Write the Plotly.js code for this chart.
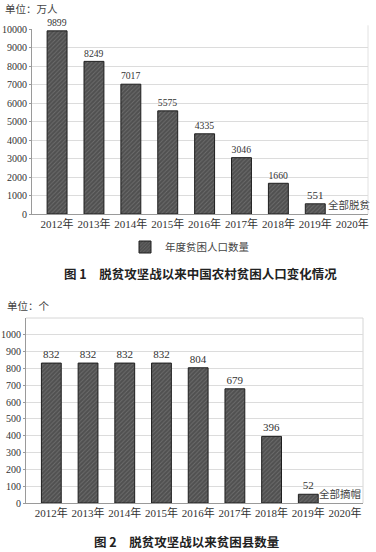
<!DOCTYPE html>
<html>
<head>
<meta charset="utf-8">
<script src="https://cdn.plot.ly/plotly-3.0.1.min.js"></script>
<style>
html,body{margin:0;padding:0;background:#fff;}
#chart{width:376px;height:552px;}
</style>
</head>
<body>
<div id="chart"></div>
<script>
// ---- data ----
const years = ["2012年","2013年","2014年","2015年","2016年","2017年","2018年","2019年","2020年"];
const poorPopulation = [9899, 8249, 7017, 5575, 4335, 3046, 1660, 551, null];
const poorPopulationLabels = ["9899","8249","7017","5575","4335","3046","1660","551",""];
const poorCounties = [832, 832, 832, 832, 804, 679, 396, 52, null];
const poorCountiesLabels = ["832","832","832","832","804","679","396","52",""];
const popTicks = [0,1000,2000,3000,4000,5000,6000,7000,8000,9000,10000];
const countyTicks = [0,100,200,300,400,500,600,700,800,900,1000];

const serif = 'Liberation Serif, Times New Roman, Noto Sans CJK SC, serif';
const cjk = 'Noto Sans CJK SC, sans-serif';
const W = 376, H = 552;
const px = v => v / W;
const py = v => 1 - v / H;

const barMarker = {
  color: '#505050',
  line: {color: '#1e1e1e', width: 1},
  pattern: {shape: '/', fillmode: 'overlay', bgcolor: '#505050', fgcolor: '#8c8c8c', size: 3, solidity: 0.3}
};

const traces = [
  {
    type: 'bar', x: years, y: poorPopulation, xaxis: 'x', yaxis: 'y',
    name: '年度贫困人口数量', width: 0.54,
    text: poorPopulationLabels, textposition: 'outside', cliponaxis: false,
    textfont: {family: serif, size: 11, color: '#333'},
    marker: barMarker, showlegend: true, hoverinfo: 'x+y'
  },
  {
    type: 'bar', x: years, y: poorCounties, xaxis: 'x2', yaxis: 'y2',
    name: '贫困县数量', width: 0.54,
    text: poorCountiesLabels, textposition: 'outside', cliponaxis: false,
    textfont: {family: serif, size: 11, color: '#333'},
    marker: barMarker, showlegend: false, hoverinfo: 'x+y'
  }
];

const xTickFont = {family: serif, size: 11, color: '#333'};
const yTickFont = {family: serif, size: 10, color: '#333'};

const layout = {
  width: W, height: H,
  margin: {l: 0, r: 0, t: 0, b: 0},
  paper_bgcolor: '#fff', plot_bgcolor: '#fff',
  font: {family: serif, color: '#333'},
  bargap: 0,
  xaxis: {
    domain: [px(32), px(368)], type: 'category', range: [-0.68, 8.43],
    showline: true, linecolor: '#9a9a9a', linewidth: 1,
    ticks: '', tickfont: xTickFont, showgrid: false, anchor: 'y', fixedrange: true
  },
  yaxis: {
    domain: [py(214), py(29)], range: [0, 10000],
    tickvals: popTicks, ticktext: popTicks.map(String),
    showline: true, linecolor: '#9a9a9a', linewidth: 1,
    ticks: 'outside', ticklen: 2, tickcolor: '#9a9a9a', ticklabelstandoff: 0,
    gridcolor: '#dcdcdc', gridwidth: 1, zeroline: false,
    tickfont: yTickFont, anchor: 'x', fixedrange: true
  },
  xaxis2: {
    domain: [px(26), px(363)], type: 'category', range: [-0.69, 8.49],
    showline: true, linecolor: '#9a9a9a', linewidth: 1,
    ticks: '', tickfont: xTickFont, showgrid: false, anchor: 'y2', fixedrange: true
  },
  yaxis2: {
    domain: [py(503), py(318)], range: [0, 1100],
    tickvals: countyTicks, ticktext: countyTicks.map(String),
    showline: true, linecolor: '#9a9a9a', linewidth: 1,
    ticks: 'outside', ticklen: 2, tickcolor: '#9a9a9a', ticklabelstandoff: 0,
    gridcolor: '#dcdcdc', gridwidth: 1, zeroline: false,
    tickfont: yTickFont, anchor: 'x2', fixedrange: true
  },
  legend: {
    orientation: 'h', x: px(190), xanchor: 'center', y: py(247), yanchor: 'middle',
    font: {family: cjk, size: 10.5, color: '#444'},
    itemwidth: 30, bgcolor: 'rgba(0,0,0,0)'
  },
  shapes: [
    {type: 'line', xref: 'x domain', yref: 'y domain', x0: 1, x1: 1, y0: 0, y1: 1.02,
     line: {color: '#e2e2e2', width: 1}, layer: 'below'},
    {type: 'line', xref: 'x2 domain', yref: 'y2 domain', x0: 1, x1: 1, y0: 0, y1: 1,
     line: {color: '#d6d6d6', width: 1}, layer: 'below'},
    {type: 'line', xref: 'x2 domain', yref: 'y2 domain', x0: 0, x1: 1, y0: 1, y1: 1,
     line: {color: '#d6d6d6', width: 1}, layer: 'below'}
  ],
  annotations: [
    {text: '单位：万人', xref: 'paper', yref: 'paper', x: px(3), y: py(9),
     xanchor: 'left', yanchor: 'middle', showarrow: false,
     font: {family: cjk, size: 10.5, color: '#444'}},
    {text: '全部脱贫', xref: 'x', yref: 'y', x: 7.94, y: 0, yanchor: 'bottom', yshift: 0,
     showarrow: false, font: {family: cjk, size: 10.5, color: '#444'}},
    {text: '<b>图 1　脱贫攻坚战以来中国农村贫困人口变化情况</b>', xref: 'paper', yref: 'paper',
     x: px(201), y: py(273), xanchor: 'center', yanchor: 'middle', showarrow: false,
     font: {family: cjk, size: 12.5, color: '#222'}},
    {text: '单位：个', xref: 'paper', yref: 'paper', x: px(5), y: py(305),
     xanchor: 'left', yanchor: 'middle', showarrow: false,
     font: {family: cjk, size: 10.5, color: '#444'}},
    {text: '全部摘帽', xref: 'x2', yref: 'y2', x: 7.86, y: 0, yanchor: 'bottom', yshift: 0,
     showarrow: false, font: {family: cjk, size: 10.5, color: '#444'}},
    {text: '<b>图 2　脱贫攻坚战以来贫困县数量</b>', xref: 'paper', yref: 'paper',
     x: px(186), y: py(541), xanchor: 'center', yanchor: 'middle', showarrow: false,
     font: {family: cjk, size: 12.5, color: '#222'}}
  ]
};

Plotly.newPlot('chart', traces, layout, {displayModeBar: false, staticPlot: true});
</script>
</body>
</html>
